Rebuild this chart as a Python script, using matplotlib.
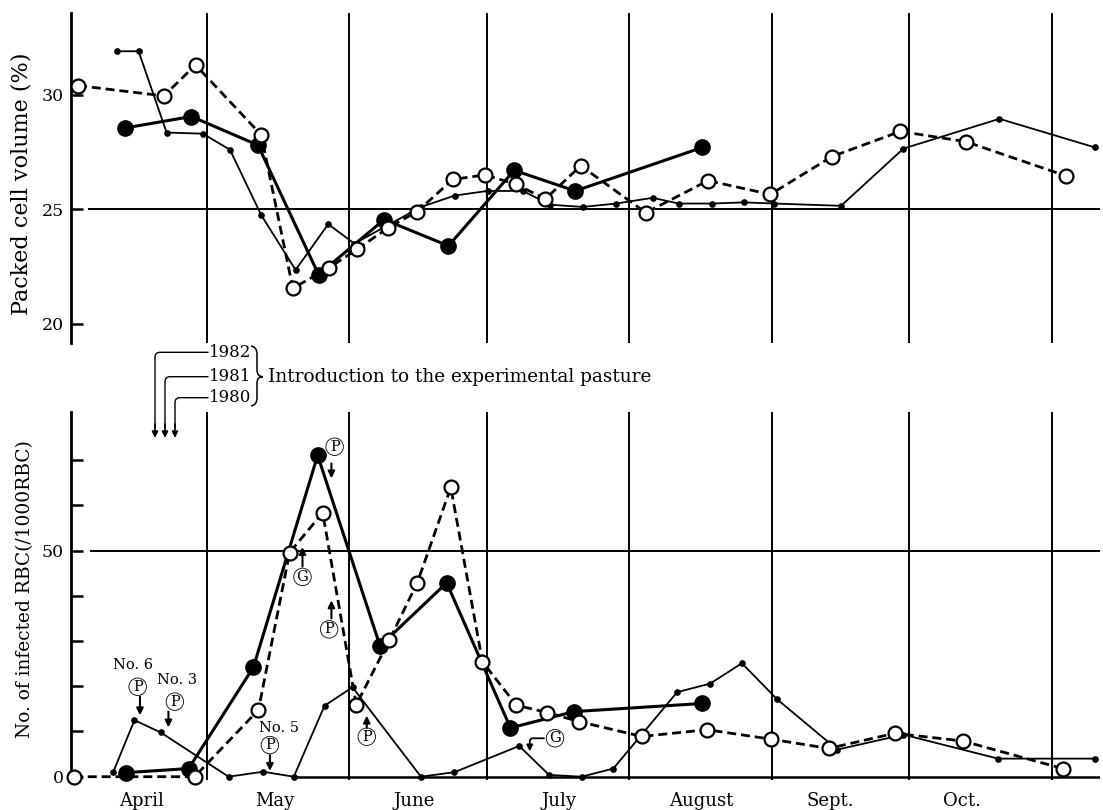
import matplotlib
matplotlib.use('Agg')
import matplotlib.pyplot as plt
from matplotlib.path import Path
from matplotlib.patches import PathPatch

plt.rcParams['font.family'] = ['DejaVu Serif', 'DejaVu Sans']
plt.rcParams['lines.scale_dashes'] = False

# ---------------- data (x = days since April 1) ----------------
month_bounds = [30, 61, 91, 122, 153, 183, 214]
month_labels = ['April', 'May', 'June', 'July', 'August', 'Sept.', 'Oct.']
month_label_x = [15.8, 44.8, 75.1, 106.7, 137.6, 165.7, 194.4]

# Packed cell volume (%)
pcv_small_x = [10.5, 15.1, 21.2, 29.1, 35.0, 41.8, 49.3, 56.4, 62.1, 76.6, 84.0, 91.1, 98.8,
               104.7, 111.8, 119.1, 127.1, 132.7, 140.0, 146.9, 153.5, 168.1, 181.7, 202.6, 223.4]
pcv_small_y = [31.9, 31.9, 28.35, 28.3, 27.6, 24.75, 22.35, 24.35, 23.5, 25.1, 25.6, 25.8, 25.8,
               25.2, 25.1, 25.25, 25.5, 25.25, 25.25, 25.3, 25.25, 25.15, 27.65, 28.95, 27.7]
pcv_filled_x = [12.2, 26.6, 41.1, 54.3, 68.6, 82.6, 96.9, 110.2, 137.9]
pcv_filled_y = [28.55, 29.05, 27.8, 22.15, 24.55, 23.4, 26.7, 25.8, 27.7]
pcv_open_x = [1.9, 20.6, 27.5, 41.8, 48.7, 56.6, 62.7, 69.5, 75.8, 83.5, 90.5, 97.2, 103.7,
              111.4, 125.6, 139.1, 152.7, 166.1, 181.0, 195.3, 217.2]
pcv_open_y = [30.4, 29.95, 31.3, 28.25, 21.55, 22.45, 23.25, 24.2, 24.9, 26.3, 26.5, 26.1, 25.45,
              26.9, 24.85, 26.25, 25.65, 27.3, 28.4, 27.95, 26.45]

# No. of infected RBC (/1000 RBC)
rbc_small_x = [9.6, 14.2, 19.9, 34.7, 42.2, 48.9, 55.6, 61.7, 76.6, 83.9, 98.0, 104.5, 111.6,
               118.5, 132.4, 139.6, 146.5, 154.2, 167.3, 181.7, 202.3, 223.4]
rbc_small_y = [1.1, 12.5, 9.8, 0, 1.1, 0, 15.7, 19.8, 0, 1.0, 6.8, 0.4, 0,
               1.8, 18.7, 20.6, 25.1, 17.1, 6.0, 9.3, 4.0, 4.0]
rbc_filled_x = [12.4, 26.0, 40.1, 54.1, 67.7, 82.2, 96.1, 109.9, 137.9]
rbc_filled_y = [0.9, 1.8, 24.2, 71.1, 28.9, 42.9, 10.8, 14.4, 16.2]
rbc_open_x = [1.0, 27.3, 41.2, 48.0, 55.2, 62.5, 69.7, 75.8, 83.1, 90.0, 97.4, 104.1, 111.0,
              124.7, 138.9, 152.9, 165.4, 179.8, 194.6, 216.4]
rbc_open_y = [0, 0, 14.75, 49.6, 58.4, 15.9, 30.2, 42.9, 64.0, 25.4, 15.8, 14.2, 12.2,
              8.9, 10.4, 8.3, 6.25, 9.6, 7.9, 1.8]

intro_years = ['1982', '1981', '1980']

# ---------------- figure ----------------
W, H = 1103, 810
fig = plt.figure(figsize=(W / 100, H / 100), dpi=100)
XL = (0.38, 224.5)


def px_box(l, t, r, b):
    return [l / W, 1 - b / H, (r - l) / W, (b - t) / H]


ax1 = fig.add_axes(px_box(71, 13, 1100, 343))
ax2 = fig.add_axes(px_box(71, 411.7, 1100, 780))

for ax in (ax1, ax2):
    ax.set_xlim(*XL)
    for s in ['top', 'right', 'bottom']:
        ax.spines[s].set_visible(False)
    ax.spines['left'].set_linewidth(2.0)
    ax.set_xticks([])
    ax.tick_params(axis='y', which='both', direction='in', length=8.5, width=1.8,
                   labelsize=12.5, pad=5)
    for b in month_bounds:
        ax.axvline(b, color='black', lw=1.4, zorder=1)

ax1.set_ylim(19.16, 33.57)
ax1.set_yticks([20, 25, 30])
ax1.axhline(25, xmin=0.0175, color='black', lw=1.4, zorder=1)

ax2.set_ylim(-0.73, 80.75)
ax2.set_yticks([0, 50])
ax2.set_yticks([10, 20, 30, 40, 60, 70], minor=True)
ax2.axhline(50, xmin=0.019, color='black', lw=1.4, zorder=1)
base_frac = (rbc_small_x[5] - XL[0]) / (XL[1] - XL[0])
ax2.axhline(0, xmin=base_frac, color='black', lw=1.8, zorder=1)


def plot_series(ax, xa, ya, xb, yb, xc, yc):
    ax.plot(xa, ya, '-', color='k', lw=1.3, marker='o', ms=3.8, zorder=3, clip_on=False)
    ax.plot(xb, yb, '-', color='k', lw=2.2, marker='o', ms=11, zorder=4, clip_on=False)
    ax.plot(xc, yc, color='k', lw=2.0, dashes=[6.5, 3.5], marker='o', ms=10,
            mfc='white', mec='k', mew=1.6, zorder=5, clip_on=False)


plot_series(ax1, pcv_small_x, pcv_small_y, pcv_filled_x, pcv_filled_y, pcv_open_x, pcv_open_y)
plot_series(ax2, rbc_small_x, rbc_small_y, rbc_filled_x, rbc_filled_y, rbc_open_x, rbc_open_y)

# axis labels
fig.text(22 / W, 1 - 184 / H, 'Packed cell volume (%)', rotation=90, ha='center',
         va='center', fontsize=16)
fig.text(25 / W, 1 - 589 / H, 'No. of infected RBC(/1000RBC)', rotation=90, ha='center',
         va='center', fontsize=13.4)

for xm, lab in zip(month_label_x, month_labels):
    ax2.text(xm, -5.4, lab, ha='center', va='center', fontsize=13, clip_on=False)


# annotations (circled letters with arrows)
def circ(ax, x, y, s):
    ax.text(x, y, s, ha='center', va='center', fontsize=10.5, zorder=6,
            bbox=dict(boxstyle='circle,pad=0.12', fc='none', ec='k', lw=0.6))


def arrow(ax, x, y0, y1, lw=1.5):
    ax.annotate('', xy=(x, y1), xytext=(x, y0),
                arrowprops=dict(arrowstyle='-|>', lw=lw, color='k', mutation_scale=10,
                                shrinkA=0, shrinkB=0), zorder=6)


ax2.text(14.0, 24.7, 'No. 6', ha='center', va='center', fontsize=10.5)
circ(ax2, 14.9, 19.9, 'P')
arrow(ax2, 15.4, 17.7, 13.6)
ax2.text(23.4, 21.4, 'No. 3', ha='center', va='center', fontsize=10.5)
circ(ax2, 23.0, 16.6, 'P')
arrow(ax2, 21.6, 14.4, 10.9)
ax2.text(45.6, 10.7, 'No. 5', ha='center', va='center', fontsize=10.5)
circ(ax2, 43.7, 7.0, 'P')
arrow(ax2, 43.7, 4.8, 1.3)
circ(ax2, 57.8, 73.0, 'P')
arrow(ax2, 57.1, 69.3, 66.0)
circ(ax2, 50.8, 44.2, 'G')
arrow(ax2, 50.8, 46.5, 50.8)
circ(ax2, 56.6, 32.6, 'P')
arrow(ax2, 57.1, 35.0, 39.0)
circ(ax2, 64.8, 8.85, 'P')
arrow(ax2, 64.8, 10.8, 13.5)
circ(ax2, 105.8, 8.5, 'G')
ax2.annotate('', xy=(100.3, 5.6), xytext=(103.4, 8.5),
             arrowprops=dict(arrowstyle='-|>', lw=1.3, color='k', mutation_scale=9,
                             shrinkA=0, shrinkB=0,
                             connectionstyle='angle,angleA=180,angleB=90,rad=3'), zorder=6)

# introduction arrows (overlay in figure pixel coordinates)
ov = fig.add_axes([0, 0, 1, 1])
ov.set_xlim(0, W)
ov.set_ylim(H, 0)
ov.axis('off')
ov.patch.set_visible(False)

for xv, yv, lab in zip([155, 165, 175], [352.3, 376.7, 397.7], intro_years):
    verts = [(208.5, yv), (xv + 5, yv), (xv, yv), (xv, yv + 5), (xv, 428)]
    codes = [Path.MOVETO, Path.LINETO, Path.CURVE3, Path.CURVE3, Path.LINETO]
    ov.add_patch(PathPatch(Path(verts, codes), fc='none', ec='k', lw=1.0))
    ov.annotate('', xy=(xv, 438), xytext=(xv, 424),
                arrowprops=dict(arrowstyle='-|>', lw=1.2, color='k', mutation_scale=9,
                                shrinkA=0, shrinkB=0))
    ov.text(209, yv, lab, ha='left', va='center', fontsize=12)

bverts = [(251, 346), (257, 347), (257, 354), (257, 370), (257, 376.7), (263, 376.7),
          (257, 376.7), (257, 383), (257, 398), (257, 405), (251, 406)]
bcodes = [Path.MOVETO, Path.CURVE3, Path.CURVE3, Path.LINETO, Path.CURVE3, Path.CURVE3,
          Path.CURVE3, Path.CURVE3, Path.LINETO, Path.CURVE3, Path.CURVE3]
ov.add_patch(PathPatch(Path(bverts, bcodes), fc='none', ec='k', lw=1.1))
ov.text(268, 376.7, 'Introduction to the experimental pasture', ha='left', va='center',
        fontsize=13.3)

fig.savefig('out.png', dpi=100)
